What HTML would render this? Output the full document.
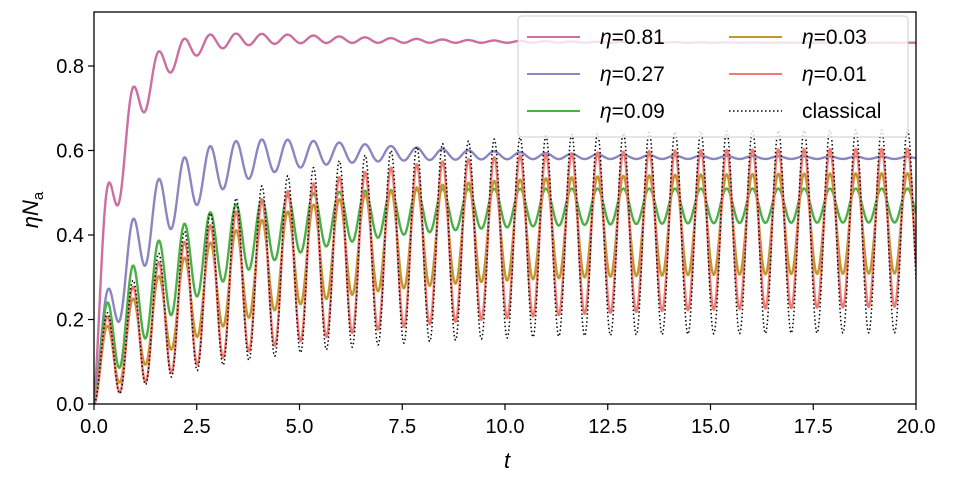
<!DOCTYPE html>
<html><head><meta charset="utf-8"><style>
body{margin:0;background:#fff}
svg text{font-family:"Liberation Sans",sans-serif;fill:#000}
</style></head><body>
<svg id="s" width="953" height="484" xmlns="http://www.w3.org/2000/svg">
<defs><clipPath id="c"><rect x="94" y="12" width="822" height="392"/></clipPath></defs>
<g id="curves" clip-path="url(#c)"></g>
<rect x="94" y="12" width="822" height="392" fill="none" stroke="#000" stroke-width="1.3"/>
<g id="ticks"></g>
<g>
<rect x="518" y="16" width="390" height="121" rx="4" fill="#fff" fill-opacity="0.8" stroke="#ccc"/>
<line x1="527" y1="37" x2="580" y2="37" stroke="#cc6e9f" stroke-width="2"/>
<line x1="527" y1="74" x2="580" y2="74" stroke="#8b86c0" stroke-width="2"/>
<line x1="527" y1="111" x2="580" y2="111" stroke="#4caf45" stroke-width="2"/>
<line x1="729" y1="37" x2="782" y2="37" stroke="#c0982a" stroke-width="2"/>
<line x1="729" y1="74" x2="782" y2="74" stroke="#ef7b72" stroke-width="2"/>
<line x1="729" y1="111" x2="782" y2="111" stroke="#000" stroke-width="1.5" stroke-dasharray="1.5,2.5"/>
<g font-size="21">
<text x="600" y="44"><tspan font-style="italic">η</tspan>=0.81</text>
<text x="600" y="81"><tspan font-style="italic">η</tspan>=0.27</text>
<text x="600" y="118"><tspan font-style="italic">η</tspan>=0.09</text>
<text x="802" y="44"><tspan font-style="italic">η</tspan>=0.03</text>
<text x="802" y="81"><tspan font-style="italic">η</tspan>=0.01</text>
<text x="802" y="118">classical</text>
</g></g>
<text x="507" y="468" font-size="22" font-style="italic" text-anchor="middle">t</text>
<text transform="translate(38,210) rotate(-90)" font-size="22" text-anchor="middle"><tspan font-style="italic">ηN</tspan><tspan font-size="15" dy="5">a</tspan></text>
</svg>
<script>
var X=function(t){return 94+t*41.1},Y=function(v){return 404-v*422.5};
var E=Math.exp;
var series=[
 ["#cc6e9f",2.4,"",function(t){return 0.855+0.025*(t/2.5)*E(1-t/2.5)-0.6*E(-t/0.6)},function(t){return 0.855-0.855*E(-t/0.75)}],
 ["#8b86c0",2.4,"",function(t){return 0.585+0.06*(t/2.5)*E(1-t/2.5)-0.45*E(-t/1.1)},function(t){return 0.58-0.58*E(-t/1.5)}],
 ["#4caf45",2.4,"",function(t){return 0.51-0.33*E(-t/1.6)},function(t){return 0.43-0.43*E(-t/2.8)}],
 ["#c0982a",2.4,"",function(t){return 0.547-0.40*E(-t/3.2)},function(t){return 0.31-0.31*E(-t/3.5)}],
 ["#ef7b72",2.4,"",function(t){return 0.605-0.44*E(-t/3.2)},function(t){return 0.235-0.235*E(-t/5)}],
 ["#000",1.5,"1.5,2.5",function(t){return 0.65-0.48*E(-t/3.2)},function(t){return 0.17-0.17*E(-t/4)}]
];
var g=document.getElementById("curves"),h="";
series.forEach(function(s){
 var d="";
 for(var i=0;i<=4000;i++){var t=i*0.005,U=s[3](t),L=s[4](t);
  var v=(U+L)/2-(U-L)/2*Math.cos(10*t);
  d+=(i?"L":"M")+X(t).toFixed(2)+" "+Y(v).toFixed(2);}
 h+='<path d="'+d+'" fill="none" stroke="'+s[0]+'" stroke-width="'+s[1]+'"'+(s[2]?' stroke-dasharray="'+s[2]+'"':'')+'/>';
});
g.innerHTML=h;
var tk="";
for(var i=0;i<=8;i++){var t=i*2.5,x=X(t);
 tk+='<line x1="'+x+'" y1="404" x2="'+x+'" y2="410" stroke="#000" stroke-width="1.2"/><text x="'+x+'" y="433" font-size="20" text-anchor="middle">'+t.toFixed(1)+'</text>';}
for(var j=0;j<=4;j++){var v=j*0.2,y=Y(v);
 tk+='<line x1="88" y1="'+y+'" x2="94" y2="'+y+'" stroke="#000" stroke-width="1.2"/><text x="84" y="'+(y+7)+'" font-size="20" text-anchor="end">'+v.toFixed(1)+'</text>';}
document.getElementById("ticks").innerHTML=tk;
</script>
</body></html>
